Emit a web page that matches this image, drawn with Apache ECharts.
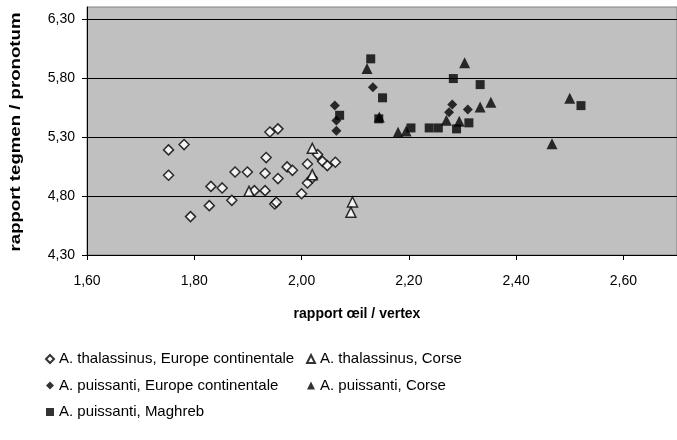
<!DOCTYPE html>
<html>
<head>
<meta charset="utf-8">
<script src="https://cdn.jsdelivr.net/npm/echarts@6/dist/echarts.min.js"></script>
<style>
  html, body { margin: 0; padding: 0; background: #fff; }
  #chart { width: 677px; height: 440px; }
</style>
</head>
<body>
<div id="chart"></div>
<script>
// rapport oeil / vertex (x), rapport tegmen / pronotum (y)
var thalEurope = [
  [1.752, 5.19], [1.781, 5.235], [1.752, 4.975], [1.793, 4.625], [1.828, 4.718],
  [1.831, 4.881], [1.852, 4.868], [1.870, 4.763], [1.876, 5.003], [1.899, 5.003],
  [1.912, 4.845], [1.932, 4.845], [1.932, 4.992], [1.934, 5.125], [1.941, 5.342],
  [1.956, 5.368], [1.956, 4.947], [1.950, 4.732], [1.953, 4.746], [1.973, 5.046],
  [1.983, 5.017], [2.000, 4.819], [2.011, 4.910], [2.011, 5.071], [2.030, 5.150],
  [2.039, 5.093], [2.048, 5.057], [2.063, 5.085], [2.020, 4.953]
];
var thalCorse = [
  [1.902, 4.839], [2.020, 5.203], [2.020, 4.980], [2.095, 4.749], [2.092, 4.661]
];
var puisEurope = [
  [2.062, 5.565], [2.065, 5.438], [2.065, 5.353], [2.133, 5.720],
  [2.281, 5.574], [2.275, 5.508], [2.310, 5.531]
];
var puisCorse = [
  [2.122, 5.879], [2.304, 5.927], [2.180, 5.339], [2.195, 5.350], [2.145, 5.469],
  [2.270, 5.441], [2.294, 5.432], [2.333, 5.554], [2.353, 5.593], [2.467, 5.243],
  [2.500, 5.627]
];
var puisMaghreb = [
  [2.129, 5.961], [2.151, 5.631], [2.071, 5.483], [2.144, 5.453], [2.204, 5.376],
  [2.238, 5.376], [2.255, 5.376], [2.283, 5.794], [2.333, 5.743], [2.289, 5.368],
  [2.312, 5.419], [2.521, 5.565]
];

var names = [
  "A. thalassinus, Europe continentale",
  "A. thalassinus, Corse",
  "A. puissanti, Europe continentale",
  "A. puissanti, Corse",
  "A. puissanti, Maghreb"
];
var xTitle = "rapport œil / vertex";
var yTitle = "rapport tegmen / pronotum";

var font = "Liberation Sans, Arial, sans-serif";
function comma(v) { return v.toFixed(2).replace(".", ","); }

var chart = echarts.init(document.getElementById("chart"), null, { renderer: "canvas" });

var legendBase = {
  orient: "vertical",
  itemWidth: 8,
  itemHeight: 8,
  itemGap: 10.5,
  selectedMode: false,
  textStyle: { fontFamily: font, fontSize: 15, lineHeight: 16, color: "#000" }
};

var option = {
  backgroundColor: "#fff",
  animation: false,
  grid: {
    left: 87, top: 7, right: -5, bottom: 185,
    show: true, backgroundColor: "#c0c0c0",
    borderColor: "#808080", borderWidth: 1
  },
  xAxis: {
    type: "value", min: 1.6, max: 2.7, interval: 0.2,
    axisLine: { lineStyle: { color: "#000", width: 1 } },
    axisTick: { inside: false, length: 5, lineStyle: { color: "#000" } },
    axisLabel: {
      formatter: comma, showMaxLabel: false, margin: 19,
      fontFamily: font, fontSize: 14, color: "#000"
    },
    splitLine: { show: false }
  },
  yAxis: {
    type: "value", min: 4.3, max: 6.4, interval: 0.5,
    axisLine: { show: true, lineStyle: { color: "#000", width: 1 } },
    axisTick: { show: true, inside: false, length: 5, lineStyle: { color: "#000" } },
    axisLabel: {
      formatter: comma, showMaxLabel: false, margin: 12,
      fontFamily: font, fontSize: 14, color: "#000"
    },
    splitLine: { show: true, showMaxLine: false, showMinLine: false, lineStyle: { color: "#000", width: 1 } }
  },
  graphic: [
    {
      type: "text", x: 357, y: 314,
      style: { text: xTitle, font: "bold 14px " + font, fill: "#000", align: "center", verticalAlign: "middle" }
    },
    {
      type: "text", x: 16, y: 132, rotation: Math.PI / 2, scaleX: 1.33,
      style: { text: yTitle, font: "bold 14px " + font, fill: "#000", align: "center", verticalAlign: "middle" }
    }
  ],
  legend: [
    Object.assign({ left: 40, top: 346, data: [names[0], names[2], names[4]] }, legendBase),
    Object.assign({ left: 301, top: 346, data: [names[1], names[3]] }, legendBase)
  ],
  series: [
    {
      name: names[0], type: "scatter", data: thalEurope, symbol: "diamond", symbolSize: 10,
      itemStyle: { color: "#fff", borderColor: "#000", borderWidth: 1.5 }
    },
    {
      name: names[1], type: "scatter", data: thalCorse, symbol: "triangle", symbolSize: 10,
      itemStyle: { color: "#fff", borderColor: "#000", borderWidth: 1.5 }
    },
    {
      name: names[2], type: "scatter", data: puisEurope, symbol: "diamond", symbolSize: 10,
      itemStyle: { color: "#000" }
    },
    {
      name: names[3], type: "scatter", data: puisCorse, symbol: "triangle", symbolSize: 11,
      itemStyle: { color: "#000" }
    },
    {
      name: names[4], type: "scatter", data: puisMaghreb, symbol: "rect", symbolSize: 9,
      itemStyle: { color: "#000" }
    }
  ]
};

chart.setOption(option);
window.onresize = function () { chart.resize(); };
</script>
</body>
</html>
